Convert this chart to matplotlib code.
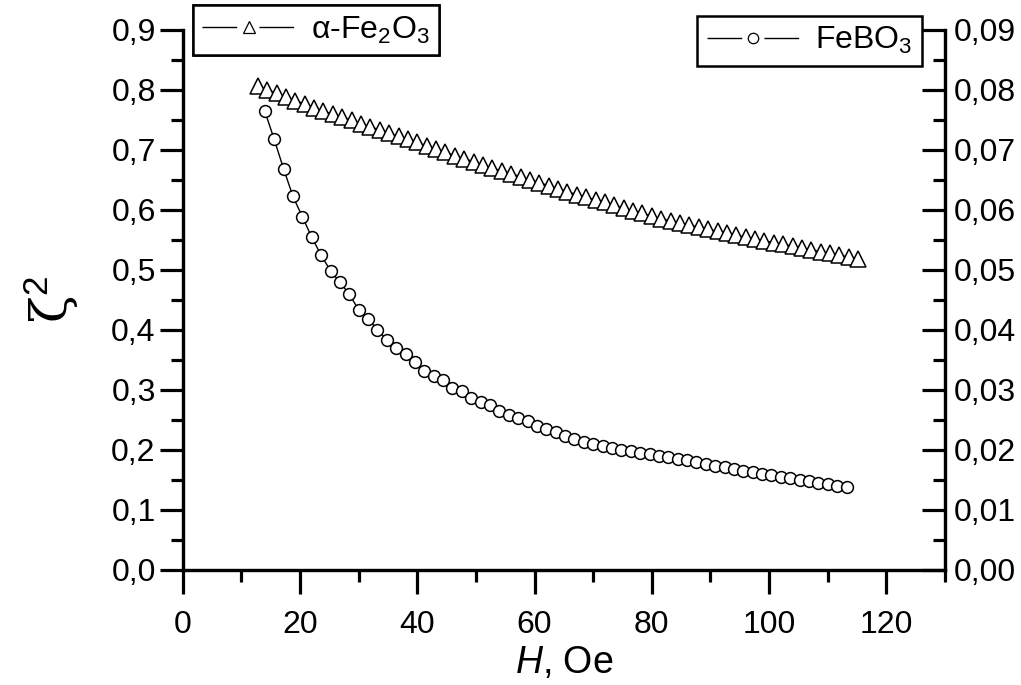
import matplotlib
matplotlib.use("Agg")
import matplotlib.pyplot as plt
from matplotlib.lines import Line2D
from matplotlib.ticker import MultipleLocator, FuncFormatter

plt.rcParams['font.family'] = ['Liberation Sans', 'DejaVu Sans']
plt.rcParams['mathtext.fontset'] = 'custom'
plt.rcParams['mathtext.rm'] = 'Liberation Sans'
plt.rcParams['mathtext.it'] = 'Liberation Sans:italic'
plt.rcParams['mathtext.bf'] = 'Liberation Sans:bold'

# alpha-Fe2O3 (left scale)
h_fe2o3 = [12.8, 14.4, 16.0, 17.6, 19.2, 20.8, 22.4, 24.0, 25.6, 27.2, 28.8, 30.4, 32.0,
           33.6, 35.2, 36.8, 38.4, 40.0, 41.6, 43.2, 44.8, 46.4, 48.0, 49.6, 51.2, 52.8,
           54.4, 56.0, 57.6, 59.2, 60.8, 62.4, 64.0, 65.6, 67.2, 68.8, 70.4, 72.0, 73.6,
           75.2, 76.8, 78.4, 80.0, 81.6, 83.2, 84.8, 86.4, 88.0, 89.6, 91.2, 92.8, 94.4,
           96.0, 97.6, 99.2, 100.8, 102.4, 104.0, 105.6, 107.2, 108.8, 110.4, 112.0, 113.6, 115.2]
z_fe2o3 = [0.807, 0.800, 0.794, 0.788, 0.782, 0.776, 0.770, 0.764, 0.759, 0.754, 0.749, 0.743, 0.738,
           0.733, 0.728, 0.722, 0.717, 0.712, 0.706, 0.701, 0.696, 0.690, 0.685, 0.680, 0.675, 0.669,
           0.665, 0.660, 0.655, 0.650, 0.645, 0.640, 0.635, 0.630, 0.625, 0.621, 0.616, 0.612, 0.607,
           0.603, 0.598, 0.594, 0.589, 0.585, 0.581, 0.578, 0.574, 0.571, 0.567, 0.564, 0.561, 0.557,
           0.554, 0.551, 0.548, 0.545, 0.542, 0.539, 0.536, 0.533, 0.530, 0.527, 0.524, 0.521, 0.518]

# FeBO3 (right scale)
h_febo3 = [14.0, 15.6, 17.2, 18.8, 20.4, 22.0, 23.6, 25.2, 26.8, 28.4, 30.0, 31.6, 33.2, 34.8,
           36.4, 38.0, 39.6, 41.2, 42.8, 44.4, 46.0, 47.6, 49.2, 50.8, 52.4, 54.0, 55.6, 57.2,
           58.8, 60.4, 62.0, 63.6, 65.2, 66.8, 68.4, 70.0, 71.6, 73.2, 74.8, 76.4, 78.0, 79.6,
           81.2, 82.8, 84.4, 86.0, 87.6, 89.2, 90.8, 92.4, 94.0, 95.6, 97.2, 98.8, 100.4, 102.0,
           103.6, 105.2, 106.8, 108.4, 110.0, 111.6, 113.2]
z_febo3 = [0.0764, 0.0717, 0.0668, 0.0622, 0.0588, 0.0554, 0.0524, 0.0498, 0.0479, 0.0459, 0.0433,
           0.0418, 0.0400, 0.0383, 0.0370, 0.0360, 0.0346, 0.0331, 0.0323, 0.0316, 0.0303, 0.0297,
           0.0286, 0.0280, 0.0275, 0.0265, 0.0258, 0.0252, 0.0247, 0.0239, 0.0234, 0.0229, 0.0223,
           0.0217, 0.0213, 0.0210, 0.0206, 0.0203, 0.0200, 0.0197, 0.0194, 0.0192, 0.0190, 0.0187,
           0.0184, 0.0182, 0.0179, 0.0176, 0.0173, 0.0171, 0.0168, 0.0165, 0.0163, 0.0160, 0.0158,
           0.0155, 0.0152, 0.0150, 0.0148, 0.0145, 0.0143, 0.0140, 0.0138]


def coma(fmt):
    return FuncFormatter(lambda v, pos: (fmt % v).replace('.', ','))


fig = plt.figure(figsize=(10.21, 6.85), dpi=100)
ax = fig.add_axes([0.179, 0.1686, 0.7466, 0.788])
ax2 = ax.twinx()

ax.plot(h_fe2o3, z_fe2o3, '-', color='black', lw=1.0, marker='^', ms=11.5,
        mfc='white', mec='black', mew=1.1)
ax2.plot(h_febo3, z_febo3, '-', color='black', lw=1.0, marker='o', ms=8.5,
         mfc='white', mec='black', mew=1.1)

ax.set_xlim(0, 130)
ax.set_ylim(0, 0.9)
ax2.set_ylim(0, 0.09)

ax.xaxis.set_major_locator(MultipleLocator(20))
ax.xaxis.set_minor_locator(MultipleLocator(10))
ax.yaxis.set_major_locator(MultipleLocator(0.1))
ax.yaxis.set_minor_locator(MultipleLocator(0.05))
ax2.yaxis.set_major_locator(MultipleLocator(0.01))
ax2.yaxis.set_minor_locator(MultipleLocator(0.005))
ax.yaxis.set_major_formatter(coma('%.1f'))
ax2.yaxis.set_major_formatter(coma('%.2f'))

for a in (ax, ax2):
    a.spines['top'].set_visible(False)
    for s in a.spines.values():
        s.set_linewidth(2.3)

ax.tick_params(axis='y', which='major', direction='out', length=16.5, width=2.3,
               labelsize=23, pad=3)
ax.tick_params(axis='x', which='major', direction='out', length=17, width=2.3,
               labelsize=23, pad=12)
ax.tick_params(axis='both', which='minor', direction='out', length=8.5, width=2.3)
ax2.tick_params(axis='y', which='major', direction='in', length=16.5, width=2.3,
                labelsize=23, pad=6)
ax2.tick_params(axis='y', which='minor', direction='in', length=8.5, width=2.3)

ax.set_xlabel(r'$H$, Oe', fontsize=27, labelpad=4)
ax.set_ylabel('ζ$^2$', fontsize=36, labelpad=22, family='DejaVu Serif')

# legend handles: line - marker - line with gaps around the marker
seg = (0, (25, 16, 25))
h1 = Line2D([], [], color='black', lw=1.0, ls=seg, marker='^', ms=9,
            mfc='white', mec='black', mew=0.9)
h2 = Line2D([], [], color='black', lw=1.0, ls=seg, marker='o', ms=7.5,
            mfc='white', mec='black', mew=0.9)

leg1 = ax.legend(handles=[h1], labels=['α-Fe$_2$O$_3$'], loc='upper left',
                 bbox_to_anchor=(0.013, 1.046), fontsize=23, handlelength=2.9,
                 fancybox=False, edgecolor='black', framealpha=1, borderpad=0.3,
                 handletextpad=0.5, borderaxespad=0)
leg1.get_frame().set_linewidth(1.8)
ax.add_artist(leg1)
leg2 = ax2.legend(handles=[h2], labels=['FeBO$_3$'], loc='upper right',
                  bbox_to_anchor=(0.970, 1.026), fontsize=23, handlelength=2.9,
                  fancybox=False, edgecolor='black', framealpha=1, borderpad=0.3,
                  handletextpad=0.5, borderaxespad=0)
leg2.get_frame().set_linewidth(1.8)

fig.savefig('out.png', dpi=100, facecolor='white')
